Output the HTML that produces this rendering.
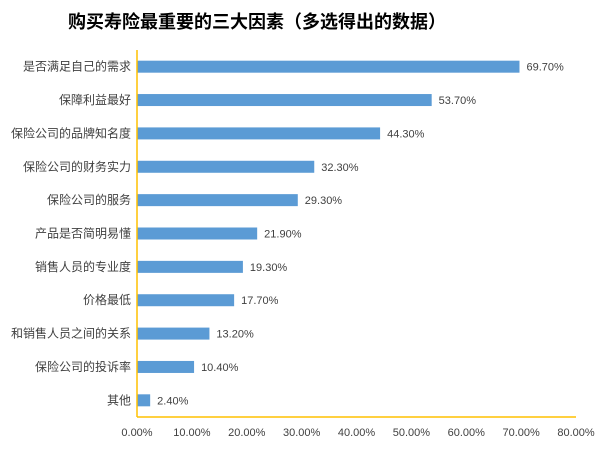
<!DOCTYPE html>
<html><head><meta charset="utf-8"><style>
body{margin:0;background:#fff;width:600px;height:450px;overflow:hidden;font-family:"Liberation Sans","Noto Sans CJK SC",sans-serif}
</style></head><body>
<svg width="600" height="450" xmlns="http://www.w3.org/2000/svg" font-family="Liberation Sans, Noto Sans CJK SC, sans-serif">
<text x="257" y="28" text-anchor="middle" font-size="18" font-weight="bold" fill="#000">购买寿险最重要的三大因素（多选得出的数据）</text>
<g id="plot"></g>
</svg>
<script>
const categories=["是否满足自己的需求","保障利益最好","保险公司的品牌知名度","保险公司的财务实力","保险公司的服务","产品是否简明易懂","销售人员的专业度","价格最低","和销售人员之间的关系","保险公司的投诉率","其他"];
const values=[69.7,53.7,44.3,32.3,29.3,21.9,19.3,17.7,13.2,10.4,2.4];
const ticks=[0,10,20,30,40,50,60,70,80];
const x0=137,x1=576,yTop=50,yBot=417,xMax=80;
const xs=v=>x0+(v/xMax)*(x1-x0);
const step=(yBot-yTop)/categories.length;
const ys=i=>yTop+step*(i+0.5);
const ns="http://www.w3.org/2000/svg";
const g=document.getElementById('plot');
function mk(t,a){const e=document.createElementNS(ns,t);for(const k in a)e.setAttribute(k,a[k]);g.appendChild(e);return e;}
categories.forEach((c,i)=>{
 const y=ys(i);
 const b=mk('rect',{x:x0,y:y-6,width:xs(values[i])-x0,height:12,fill:'#5b9bd5'});
 
 
 const l=mk('text',{x:131,y:y+4,'text-anchor':'end','font-size':'12',fill:'#404040'});
 l.textContent=c;
 
 
 const v=mk('text',{x:xs(values[i])+7,y:y+4,'font-size':'11',fill:'#404040'});
 v.textContent=values[i].toFixed(2)+'%';
 
 
});
ticks.forEach(t=>{
 const tx=mk('text',{x:xs(t),y:436,'text-anchor':'middle','font-size':'11',fill:'#404040'});
 tx.textContent=t.toFixed(2)+'%';
 
 
});
const ax=mk('line',{x1:x0,y1:yTop,x2:x0,y2:yBot,stroke:'#ffc000','stroke-width':1.5});


const bx=mk('line',{x1:x0,y1:yBot,x2:x1,y2:yBot,stroke:'#ffc000','stroke-width':1.5});


</script>
</body></html>
